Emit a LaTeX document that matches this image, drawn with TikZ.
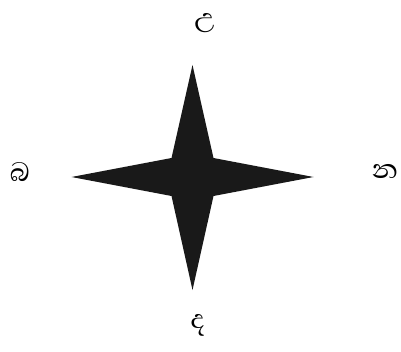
\documentclass[tikz,border=0pt]{standalone}
\usepackage{fontspec}
\newfontfamily\sinhfont[Script=Sinhala]{Abhaya Libre}
\begin{document}
\begin{tikzpicture}[x=1pt,y=1pt,
    punto/.style={font=\sinhfont\fontsize{34}{36}\selectfont,inner sep=0pt}]
  \useasboundingbox (0,0) rectangle (401,351);
  % Estrella
  \coordinate (c) at (192.5,174);
  \fill[black!90]
    (192.5,286)--(213.5,193)--(313.5,174)--(213.5,155)--(192.5,61)
    --(171.5,155)--(71.5,174)--(171.5,193)--cycle;

  % Puntos cardinales
  \node[punto] (norte) at (205,328) {උ};
  \node[punto] (sur)   at (198,26)  {ද};
  \node[punto] (este)  at (385,180) {න};
  \node[punto] (oeste) at (20,179)  {බ};
\end{tikzpicture}
\end{document}
